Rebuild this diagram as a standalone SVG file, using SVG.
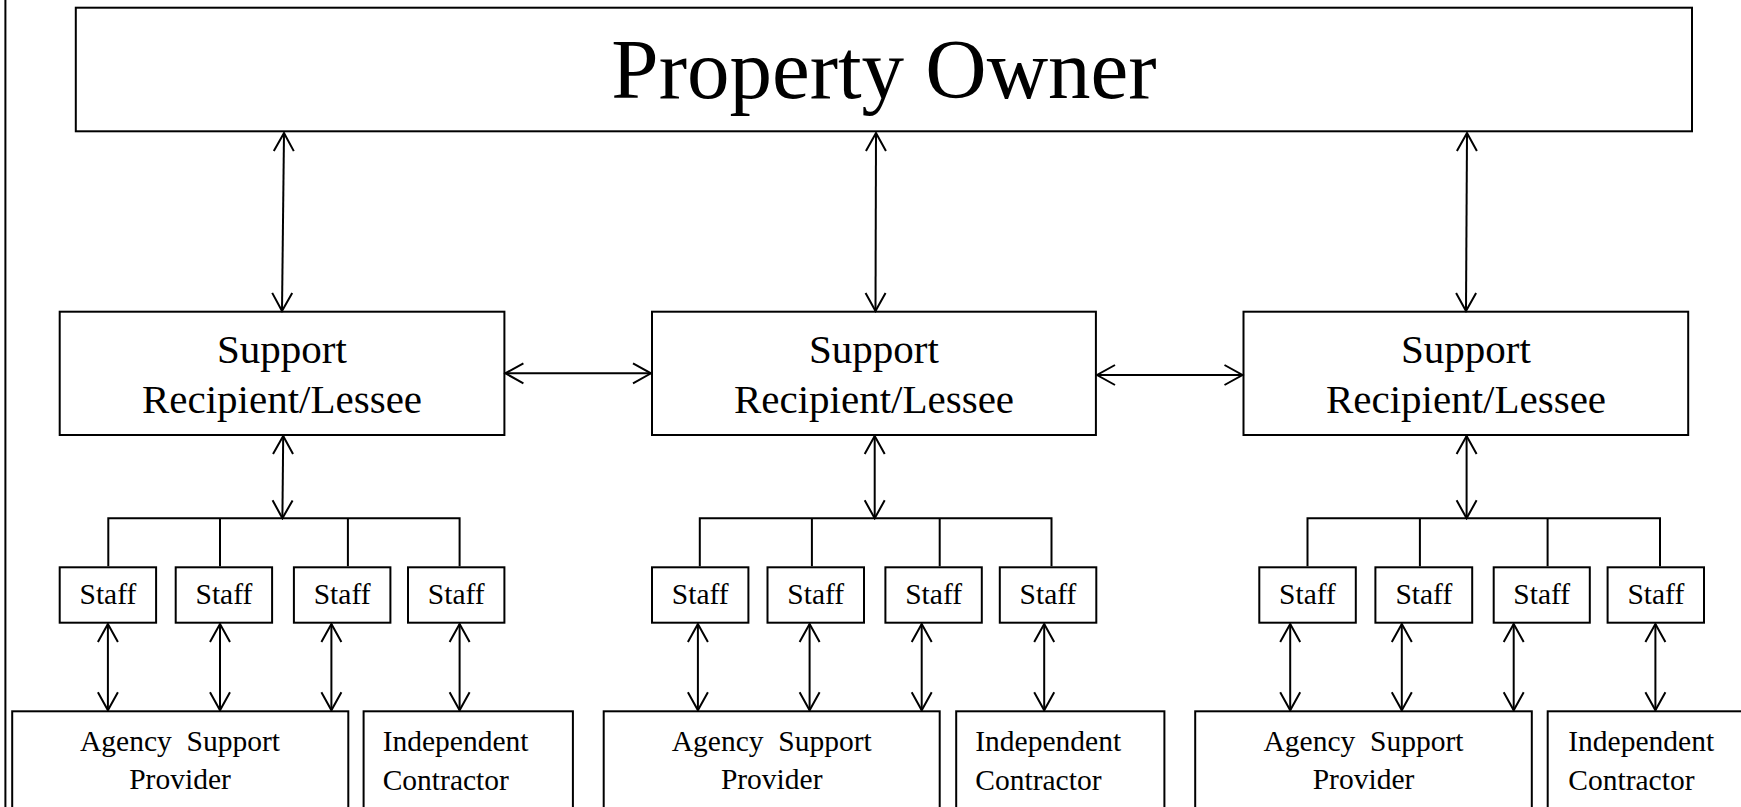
<svg xmlns="http://www.w3.org/2000/svg" width="1741" height="807" viewBox="0 0 1741 807">
<style>
.box{fill:#fff;stroke:#000;stroke-width:2}
.ln{fill:none;stroke:#000;stroke-width:2}
.arr{fill:none;stroke:#000;stroke-width:2;marker-start:url(#ah);marker-end:url(#ah)}
text{font-family:"Liberation Serif","Times New Roman",serif;fill:#000}
.t85{font-size:85px;text-anchor:middle}
.t41{font-size:41px;text-anchor:middle}
.t30{font-size:29.5px;text-anchor:middle}
.tl{font-size:29.5px;text-anchor:start}
.pre{white-space:pre}
</style>
<defs>
<marker id="ah" markerUnits="userSpaceOnUse" viewBox="-1 -12 21 24" markerWidth="21" markerHeight="24" refX="18" refY="0" orient="auto-start-reverse">
<path d="M0,-10 L18,0 L0,10" fill="none" stroke="#000" stroke-width="2"/>
</marker>
</defs>
<line class="ln" x1="5.4" y1="0" x2="5.4" y2="807"/>
<g id="owner">
<rect class="box" x="75.8" y="7.7" width="1616.2" height="123.6"/>
<text class="t85" x="884" y="98">Property Owner</text>
</g>
<g id="sr1"><rect class="box" x="59.7" y="311.7" width="444.7" height="123.3"/>
<text class="t41" x="282" y="362.7">Support</text><text class="t41" x="282" y="413.3">Recipient/Lessee</text></g>
<g id="sr2"><rect class="box" x="652" y="311.7" width="443.9" height="123.3"/>
<text class="t41" x="874" y="362.7">Support</text><text class="t41" x="874" y="413.3">Recipient/Lessee</text></g>
<g id="sr3"><rect class="box" x="1243.5" y="311.7" width="444.7" height="123.3"/>
<text class="t41" x="1466" y="362.7">Support</text><text class="t41" x="1466" y="413.3">Recipient/Lessee</text></g>
<g id="staff1a"><rect class="box" x="59.7" y="567.3" width="96.4" height="55.4"/><text class="t30" x="107.9" y="604">Staff</text></g>
<g id="staff1b"><rect class="box" x="175.7" y="567.3" width="96.4" height="55.4"/><text class="t30" x="223.9" y="604">Staff</text></g>
<g id="staff1c"><rect class="box" x="293.9" y="567.3" width="96.5" height="55.4"/><text class="t30" x="342.1" y="604">Staff</text></g>
<g id="staff1d"><rect class="box" x="408" y="567.3" width="96.4" height="55.4"/><text class="t30" x="456.2" y="604">Staff</text></g>
<g id="staff2a"><rect class="box" x="652" y="567.3" width="96.4" height="55.4"/><text class="t30" x="700.2" y="604">Staff</text></g>
<g id="staff2b"><rect class="box" x="767.5" y="567.3" width="96.5" height="55.4"/><text class="t30" x="815.7" y="604">Staff</text></g>
<g id="staff2c"><rect class="box" x="885.4" y="567.3" width="96.4" height="55.4"/><text class="t30" x="933.6" y="604">Staff</text></g>
<g id="staff2d"><rect class="box" x="999.8" y="567.3" width="96.5" height="55.4"/><text class="t30" x="1048" y="604">Staff</text></g>
<g id="staff3a"><rect class="box" x="1259.3" y="567.3" width="96.5" height="55.4"/><text class="t30" x="1307.5" y="604">Staff</text></g>
<g id="staff3b"><rect class="box" x="1375.4" y="567.3" width="96.8" height="55.4"/><text class="t30" x="1423.8" y="604">Staff</text></g>
<g id="staff3c"><rect class="box" x="1493.7" y="567.3" width="96.1" height="55.4"/><text class="t30" x="1541.7" y="604">Staff</text></g>
<g id="staff3d"><rect class="box" x="1607.6" y="567.3" width="96.4" height="55.4"/><text class="t30" x="1655.8" y="604">Staff</text></g>
<g id="agency1"><rect class="box" x="12.2" y="711.3" width="336.1" height="130"/>
<text class="t30 pre" x="180" y="750.7">Agency  Support</text><text class="t30" x="180" y="789">Provider</text></g>
<g id="agency2"><rect class="box" x="603.7" y="711.3" width="336" height="130"/>
<text class="t30 pre" x="771.7" y="750.7">Agency  Support</text><text class="t30" x="771.7" y="789">Provider</text></g>
<g id="agency3"><rect class="box" x="1195.2" y="711.3" width="336.6" height="130"/>
<text class="t30 pre" x="1363.5" y="750.7">Agency  Support</text><text class="t30" x="1363.5" y="789">Provider</text></g>
<g id="indep1"><rect class="box" x="363.6" y="711.3" width="209.3" height="130"/>
<text class="tl" x="382.7" y="750.7">Independent</text><text class="tl" x="382.7" y="790">Contractor</text></g>
<g id="indep2"><rect class="box" x="956.2" y="711.3" width="208.2" height="130"/>
<text class="tl" x="975.3" y="750.7">Independent</text><text class="tl" x="975.3" y="790">Contractor</text></g>
<g id="indep3"><rect class="box" x="1547.7" y="711.3" width="220" height="130"/>
<text class="tl" x="1568.3" y="750.7">Independent</text><text class="tl" x="1568.3" y="790">Contractor</text></g>
<g id="connectors">
<line class="arr" x1="284" y1="133" x2="282" y2="311"/>
<line class="arr" x1="876" y1="133" x2="875.5" y2="311"/>
<line class="arr" x1="1467" y1="133" x2="1466" y2="311"/>
<line class="arr" x1="505.4" y1="373.3" x2="651" y2="373.3"/>
<line class="arr" x1="1097" y1="375" x2="1242.5" y2="375"/>
<line class="arr" x1="283.2" y1="436" x2="282.4" y2="518.3"/>
<line class="arr" x1="874.7" y1="436" x2="874.7" y2="518.3"/>
<line class="arr" x1="1466.6" y1="436" x2="1466.6" y2="518.3"/>
<path class="ln" d="M108.3,566.3 V518.3 H459.6 V566.3 M220,518.3 V566.3 M347.9,518.3 V566.3"/>
<path class="ln" d="M699.8,566.3 V518.3 H1051.5 V566.3 M811.9,518.3 V566.3 M939.7,518.3 V566.3"/>
<path class="ln" d="M1307.5,566.3 V518.3 H1660 V566.3 M1419.9,518.3 V566.3 M1547.6,518.3 V566.3"/>
<line class="arr" x1="107.9" y1="624" x2="107.9" y2="710.3"/>
<line class="arr" x1="220" y1="624" x2="220" y2="710.3"/>
<line class="arr" x1="331.4" y1="624" x2="331.4" y2="710.3"/>
<line class="arr" x1="459.6" y1="624" x2="459.6" y2="710.3"/>
<line class="arr" x1="697.9" y1="624" x2="697.9" y2="710.3"/>
<line class="arr" x1="809.6" y1="624" x2="809.6" y2="710.3"/>
<line class="arr" x1="921.7" y1="624" x2="921.7" y2="710.3"/>
<line class="arr" x1="1044.2" y1="624" x2="1044.2" y2="710.3"/>
<line class="arr" x1="1290.2" y1="624" x2="1290.2" y2="710.3"/>
<line class="arr" x1="1401.8" y1="624" x2="1401.8" y2="710.3"/>
<line class="arr" x1="1513.7" y1="624" x2="1513.7" y2="710.3"/>
<line class="arr" x1="1655.4" y1="624" x2="1655.4" y2="710.3"/>
</g>
</svg>
